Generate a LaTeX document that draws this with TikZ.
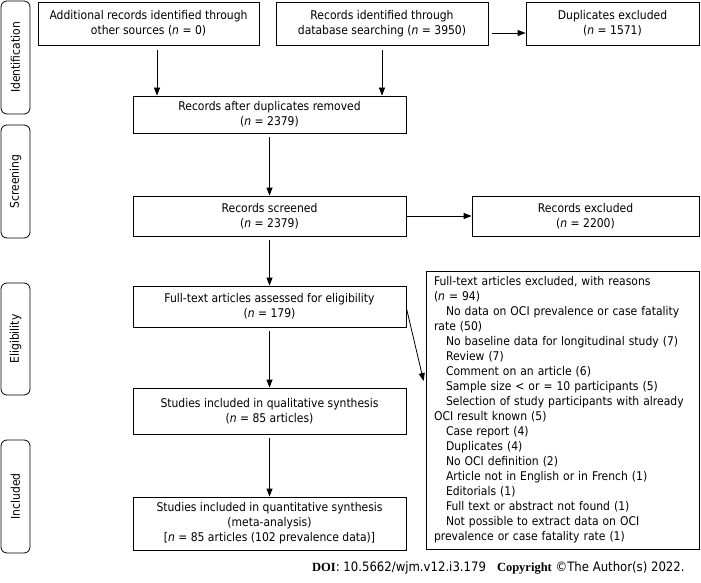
\documentclass[tikz,border=0pt]{standalone}
\usepackage{fontspec}
\setmainfont{DejaVu Sans}[FakeStretch=0.9]
\newfontfamily\doifont{Liberation Serif}
\usetikzlibrary{arrows.meta}
\begin{document}
\begin{tikzpicture}[x=1pt,y=-1pt,
  box/.style={draw, line width=0.8pt, inner sep=0pt, align=center, font=\fontsize{12}{15}\selectfont},
  side/.style={draw, line width=0.8pt, rounded corners=6pt, inner sep=0pt, rotate=90, minimum height=29pt, font=\fontsize{12}{15}\selectfont},
  arr/.style={line width=0.8pt, -{Triangle[length=8pt,width=6pt]}}]
\useasboundingbox (0,0) rectangle (701,583);
% side labels
\node[side, minimum width=113pt] (ident) at (15.5,57.5) {Identification};
\node[side, minimum width=113pt] (screen) at (15.5,181.5) {Screening};
\node[side, minimum width=112pt] (elig) at (15.5,339) {Eligibility};
\node[side, minimum width=113pt] (incl) at (15.5,496.5) {Included};
% boxes
\node[box, minimum width=221pt, minimum height=43pt] (add) at (148.5,23.5) {Additional records identified through\\other sources (\textit{n} = 0)};
\node[box, minimum width=212pt, minimum height=43pt] (db) at (382,23.5) {Records identified through\\database searching (\textit{n} = 3950)};
\node[box, minimum width=173pt, minimum height=43pt] (dup) at (612.5,23.5) {Duplicates excluded\\(\textit{n} = 1571)};
\node[box, minimum width=273pt, minimum height=37pt] (after) at (269.5,114.5) {Records after duplicates removed\\(\textit{n} = 2379)};
\node[box, minimum width=273pt, minimum height=40pt] (screened) at (269.5,216) {Records screened\\(\textit{n} = 2379)};
\node[box, minimum width=227pt, minimum height=40pt] (recexcl) at (585.5,216) {Records excluded\\(\textit{n} = 2200)};
\node[box, minimum width=273pt, minimum height=41pt] (fulltext) at (269.5,306.5) {Full-text articles assessed for eligibility\\(\textit{n} = 179)};
\node[box, minimum width=273pt, minimum height=46pt] (qual) at (269.5,411) {Studies included in qualitative synthesis\\(\textit{n} = 85 articles)};
\node[box, minimum width=273pt, minimum height=53pt] (quant) at (269.5,523.5) {Studies included in quantitative synthesis\\(meta-analysis)\\{[}\textit{n} = 85 articles (102 prevalence data)]};
\node[box, minimum width=273pt, minimum height=278pt, align=left, text width=257pt] (ftexcl) at (562.5,410) {Full-text articles excluded, with reasons\\
(\textit{n} = 94)\\
\hspace*{12pt}No data on OCI prevalence or case fatality\\
rate (50)\\
\hspace*{12pt}No baseline data for longitudinal study (7)\\
\hspace*{12pt}Review (7)\\
\hspace*{12pt}Comment on an article (6)\\
\hspace*{12pt}Sample size < or = 10 participants (5)\\
\hspace*{12pt}Selection of study participants with already\\
OCI result known (5)\\
\hspace*{12pt}Case report (4)\\
\hspace*{12pt}Duplicates (4)\\
\hspace*{12pt}No OCI definition (2)\\
\hspace*{12pt}Article not in English or in French (1)\\
\hspace*{12pt}Editorials (1)\\
\hspace*{12pt}Full text or abstract not found (1)\\
\hspace*{12pt}Not possible to extract data on OCI\\
prevalence or case fatality rate (1)};
% arrows
\draw[arr] ([xshift=8.5pt,yshift=-5pt]add.south) -- ([xshift=8.5pt]add.south |- after.north);
\draw[arr] ([yshift=-5pt]db.south) -- (db.south |- after.north);
\draw[arr] ([xshift=4pt,yshift=-9.5pt]db.east) -- ([yshift=-9.5pt]dup.west);
\draw[arr] ([yshift=-4pt]after.south) -- (screened.north);
\draw[arr] (screened.east) -- (recexcl.west);
\draw[arr] ([yshift=-4pt]screened.south) -- (fulltext.north);
\draw[arr] ([yshift=-4pt]fulltext.south) -- (qual.north);
\draw[arr] ([yshift=-4pt]qual.south) -- (quant.north);
\draw[arr] ([yshift=-1.5pt]fulltext.east) -- ([xshift=-2pt,yshift=29pt]ftexcl.west);
% footer
\node[anchor=base west, inner sep=0pt, font=\fontsize{13}{15}\selectfont] (doi) at (312,571) {{\doifont\fontsize{12.5}{15}\selectfont\bfseries DOI}: 10.5662/wjm.v12.i3.179\hspace{11pt}{\doifont\fontsize{12.5}{15}\selectfont\bfseries Copyright} ©The Author(s) 2022.};
\end{tikzpicture}
\end{document}
